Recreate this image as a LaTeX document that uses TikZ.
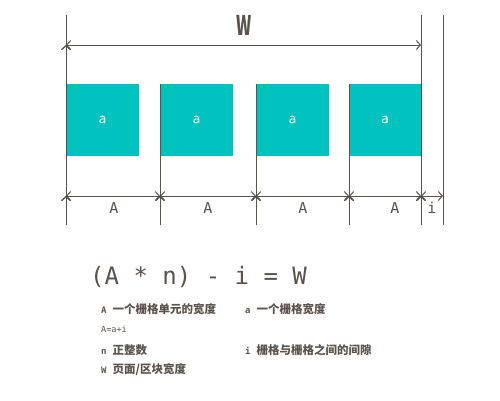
\documentclass[tikz,border=0pt]{standalone}
\usepackage{fontspec}
\setmainfont{Noto Sans CJK SC}
\newfontfamily\monofont{DejaVu Sans Mono}
\usetikzlibrary{arrows.meta}

\definecolor{gridteal}{HTML}{00C2BE}
\definecolor{inkgray}{HTML}{5A534B}

\newcommand{\keyletter}[1]{{\monofont\fontsize{9}{9}\selectfont #1}\hspace{6pt}}

\begin{document}
\begin{tikzpicture}[x=1pt,y=-1pt]
    \useasboundingbox (0,0) rectangle (500,400);
    \tikzset{
        cell/.style={fill=gridteal, minimum width=73pt, minimum height=72pt, inner sep=0pt, text=white, font=\monofont\fontsize{13}{13}\selectfont},
        guide/.style={draw=inkgray, line width=1pt},
        dim/.style={draw=inkgray, line width=1pt, {Straight Barb[length=4pt,width=9pt]}-{Straight Barb[length=4pt,width=9pt]}},
        lbl/.style={text=inkgray, inner sep=0pt},
        note/.style={text=inkgray, inner sep=0pt, anchor=west, font=\bfseries\fontsize{11.5}{11.5}\selectfont}
    }

    \node[cell] (c1) at (102.5,120) {a};
    \node[cell] (c2) at (196.5,120) {a};
    \node[cell] (c3) at (292.5,120) {a};
    \node[cell] (c4) at (385,120) {a};

    \coordinate (t0) at (66,15);   \coordinate (u0) at (66,225);
    \coordinate (t1) at (160,84);  \coordinate (u1) at (160,225);
    \coordinate (t2) at (256,84);  \coordinate (u2) at (256,225);
    \coordinate (t3) at (349,84);  \coordinate (u3) at (349,225);
    \coordinate (t4) at (421,15);  \coordinate (u4) at (421,225);
    \coordinate (t5) at (443,15);  \coordinate (u5) at (443,225);

    \path [guide] (t0) edge (u0);
    \path [guide] (t1) edge (u1);
    \path [guide] (t2) edge (u2);
    \path [guide] (t3) edge (u3);
    \path [guide] (t4) edge (u4);
    \path [guide] (t5) edge (u5);

    \coordinate (w0) at (66,45);  \coordinate (w1) at (421,45);
    \coordinate (d0) at (66,196); \coordinate (d1) at (160,196);
    \coordinate (d2) at (256,196); \coordinate (d3) at (349,196);
    \coordinate (d4) at (421,196); \coordinate (d5) at (443,196);

    \path [dim] (w0) edge (w1);
    \path [dim] (d0) edge (d1);
    \path [dim] (d1) edge (d2);
    \path [dim] (d2) edge (d3);
    \path [dim] (d3) edge (d4);
    \path [dim] (d4) edge (d5);

    \node[lbl, font=\bfseries\fontsize{27}{27}\selectfont, xscale=0.6] (wtop) at (244,25) {W};
    \node[lbl, font=\monofont\fontsize{15}{15}\selectfont] (A1) at (114,208) {A};
    \node[lbl, font=\monofont\fontsize{15}{15}\selectfont] (A2) at (208,208) {A};
    \node[lbl, font=\monofont\fontsize{15}{15}\selectfont] (A3) at (303,208) {A};
    \node[lbl, font=\monofont\fontsize{15}{15}\selectfont] (A4) at (395,208) {A};
    \node[lbl, font=\monofont\fontsize{15}{15}\selectfont] (ilbl) at (432,208) {i};

    \node[lbl, anchor=west, font=\monofont\fontsize{24}{24}\selectfont] (formula) at (90,277) {(A * n) - i = W};

    \node[note] (nA) at (101,309) {\keyletter{A}一个栅格单元的宽度};
    \node[note] (na) at (245,309) {\keyletter{a}一个栅格宽度};
    \node[note, font=\monofont\fontsize{8.5}{8.5}\selectfont] (nsum) at (101,329) {A=a+i};
    \node[note] (nn) at (101,350) {\keyletter{n}正整数};
    \node[note] (ni) at (245,350) {\keyletter{i}栅格与栅格之间的间隙};
    \node[note] (nW) at (101,370) {\keyletter{W}页面/区块宽度};

\end{tikzpicture}
\end{document}
